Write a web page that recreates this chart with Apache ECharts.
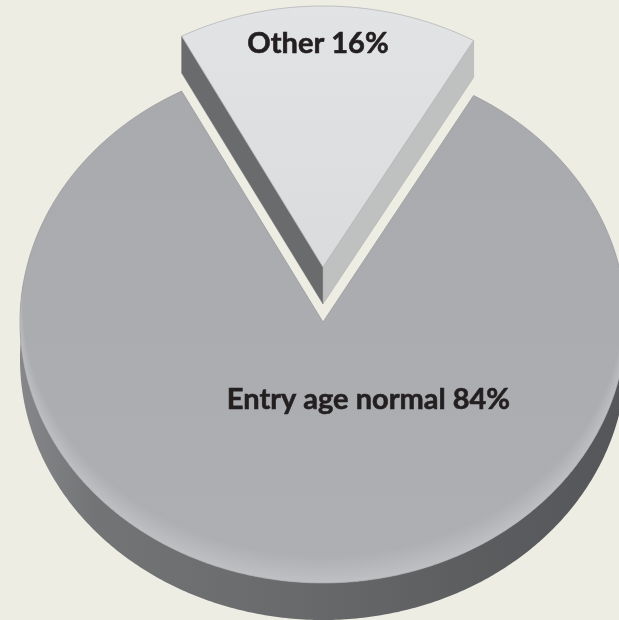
<!DOCTYPE html>
<html>
<head>
<meta charset="utf-8">
<style>html,body{margin:0;padding:0;background:#eeede3}#chart{width:619px;height:620px}</style>
<script src="https://cdn.jsdelivr.net/npm/echarts@6/dist/echarts.min.js"></script>
</head>
<body>
<div id="chart"></div>
<script>
// Funding-method shares, in percent
const categories = ['Entry age normal', 'Other'];
const shares = [84, 16];

// Oblique view of the disc: ellipse radii, rim depth, hub and wedge lift
const HUB_X = 323, HUB_Y = 322, RX = 303, RY = 261, DEPTH = 37;
const LIFT = [0, -55];
const FIRST_ANGLE = 29.8;
const LABEL_AT = [[368.5, 400], [318, 44]];
const FONT = 'bold 29px Lato, "Noto Sans", sans-serif';

const total = shares.reduce((a, b) => a + b, 0);
const rad = d => d * Math.PI / 180;

function sliceAngles(index) {
  let start = FIRST_ANGLE;
  for (let i = 0; i < index; i++) start += shares[i] / total * 360;
  return [start, start + shares[index] / total * 360];
}

function ellipsePoint(deg, cy, inset) {
  const t = rad(deg), k = inset || 0;
  return [HUB_X + (RX - k) * Math.sin(t), cy - (RY - k) * Math.cos(t)];
}

function arc(from, to, cy, insetOf) {
  const pts = [], n = Math.max(4, Math.ceil(Math.abs(to - from) * 1.5));
  for (let i = 0; i <= n; i++) {
    const d = from + (to - from) * i / n;
    pts.push(ellipsePoint(d, cy, insetOf ? insetOf(d) : 0));
  }
  return pts;
}

function poly(points, style, z2) {
  return { type: 'polygon', shape: { points }, style, z2: z2 || 0, silent: true };
}

// Pale band along the near edge of a slice's top face, built from stacked crescents
function rimGlow(from, to, cy, widest, steps, alpha) {
  const out = [];
  for (let k = 1; k <= steps; k++) {
    const w = widest * k / steps;
    const inset = d => w * Math.max(0, 0.15 - Math.cos(rad(d))) / 1.15;
    const outer = arc(from, to, cy);
    const inner = arc(to, from, cy, inset);
    out.push(poly(outer.concat(inner), { fill: 'rgba(255,255,255,' + alpha + ')' }));
  }
  return out;
}

function renderSlice(params) {
  const i = params.dataIndex;
  const [a0, a1] = sliceAngles(i);
  const cy = HUB_Y + LIFT[i];
  const apex = [HUB_X, cy];
  const topFace = [apex].concat(arc(a0, a1, cy));
  const children = [];

  if (i === 0) {
    // Outer wall, visible along the near half of the disc
    const wallTop = arc(81, 279, cy);
    const wallBottom = arc(279, 81, cy + DEPTH);
    children.push(poly(wallTop.concat(wallBottom), {
      fill: new echarts.graphic.LinearGradient(0, 0, 1, 0, [
        { offset: 0, color: '#86878a' },
        { offset: 0.12, color: '#737476' },
        { offset: 0.45, color: '#696a6c' },
        { offset: 0.75, color: '#5c5d5f' },
        { offset: 1, color: '#55565a' }
      ])
    }));
    children.push(poly(topFace, {
      fill: new echarts.graphic.LinearGradient(0, 0, 0, 1, [
        { offset: 0, color: '#a9aaad' },
        { offset: 1, color: '#aeafb2' }
      ]),
      stroke: '#9a9b9e',
      lineWidth: 0.8
    }));
    children.push(...rimGlow(81, 279, cy, 26, 8, 0.036));
  } else {
    // Two cut faces of the lifted wedge
    const left = ellipsePoint(a0, cy);
    const right = ellipsePoint(a1, cy);
    children.push(poly([apex, left, [left[0], left[1] + DEPTH], [apex[0], apex[1] + DEPTH]],
      { fill: '#6a6b6d', stroke: '#6a6b6d', lineWidth: 0.5 }));
    children.push(poly([apex, right, [right[0], right[1] + DEPTH], [apex[0], apex[1] + DEPTH]],
      { fill: '#bfc0c0', stroke: '#a9aaaa', lineWidth: 0.5 }));
    children.push(poly(topFace, {
      fill: new echarts.graphic.LinearGradient(0, 0, 0, 1, [
        { offset: 0, color: '#e2e3e5' },
        { offset: 1, color: '#dadbdd' }
      ]),
      stroke: '#b4b5b7',
      lineWidth: 0.8
    }));
  }

  children.push({
    type: 'text',
    z2: 5,
    silent: true,
    style: {
      text: categories[i] + ' ' + shares[i] + '%',
      x: LABEL_AT[i][0],
      y: LABEL_AT[i][1],
      align: 'center',
      verticalAlign: 'middle',
      font: FONT,
      fill: '#231f20',
      stroke: '#231f20',
      lineWidth: 0.6
    }
  });
  return { type: 'group', children };
}

const chart = echarts.init(document.getElementById('chart'), null, { renderer: 'canvas' });
chart.setOption({
  animation: false,
  backgroundColor: '#eeede3',
  series: [{
    type: 'custom',
    coordinateSystem: 'none',
    renderItem: renderSlice,
    data: shares.map((v, i) => ({ name: categories[i], value: [v] }))
  }]
});
</script>
</body>
</html>
